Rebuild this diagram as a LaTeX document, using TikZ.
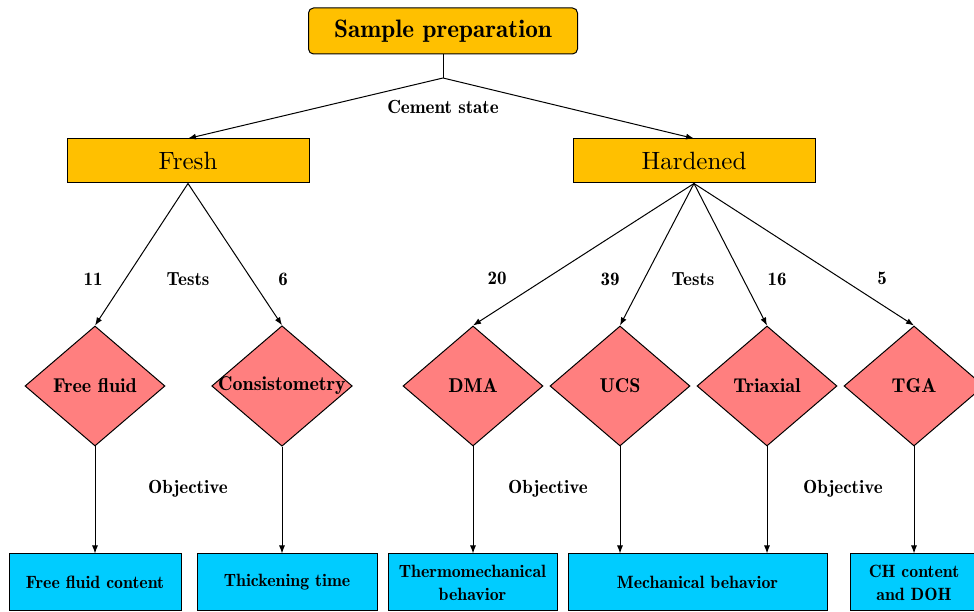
\documentclass[tikz,border=0pt]{standalone}
\usepackage{fontspec}
\setmainfont{lmroman10-regular}[Extension=.otf, BoldFont=lmromandemi10-regular]
\usetikzlibrary{shapes.geometric,positioning,arrows.meta}
\definecolor{stateorange}{HTML}{FFC000}
\definecolor{testred}{HTML}{FF7F7F}
\definecolor{resultcyan}{HTML}{00CCFF}
\begin{document}
\begin{tikzpicture}[x=1pt, y=1pt, >={Latex[length=8pt,width=6pt]}, line width=1pt,
    prepbox/.style={rectangle, rounded corners=5pt, draw, fill=stateorange, minimum width=269pt, minimum height=46pt, font=\fontsize{25.2}{30}\bfseries},
    statebox/.style={rectangle, draw, fill=stateorange, minimum width=242pt, minimum height=44pt, font=\fontsize{25}{30}\selectfont},
    testbox/.style={diamond, draw, fill=testred, shape aspect=1.1667, inner xsep=-4pt, inner ysep=0pt, minimum width=140pt, minimum height=120pt, font=\fontsize{20}{24}\bfseries},
    resultbox/.style={rectangle, draw, fill=resultcyan, minimum height=57pt, align=center, font=\fontsize{17.8}{23}\bfseries},
    tag/.style={font=\fontsize{19}{22}\bfseries},
    node distance=147pt]
        \useasboundingbox (0,0) rectangle (974,612);

        \node[prepbox] (prep) at (443,581) {Sample preparation};
        \coordinate (split) at (443,534);
        \node[tag] (state) at (443,505) {Cement state};
        \node[statebox] (fresh) at (188,451) {Fresh};
        \node[statebox] (hard) at (694,451) {Hardened};

        \node[testbox] (fluid) at (95,226) {Free fluid};
        \node[testbox, right of=fluid, node distance=187pt] (consist) {Consistometry};
        \node[testbox] (dma) at (473,226) {DMA};
        \node[testbox, right of=dma] (ucs) {UCS};
        \node[testbox, right of=ucs] (triax) {Triaxial};
        \node[testbox, right of=triax] (tga) {TGA};

        \node[tag] (n11) at (93,333) {11};
        \node[tag] (freshtests) at (188,333) {Tests};
        \node[tag] (n6) at (283,333) {6};
        \node[tag] (n20) at (497,334) {20};
        \node[tag] (n39) at (610,333) {39};
        \node[tag] (hardtests) at (693,333) {Tests};
        \node[tag] (n16) at (777,333) {16};
        \node[tag] (n5) at (882,334) {5};

        \node[tag] (obj1) at (188,123) {Objective};
        \node[tag] (obj2) at (548,123) {Objective};
        \node[tag] (obj3) at (843,123) {Objective};

        \node[resultbox, minimum width=172pt] (content) at (95,29.5) {Free fluid content};
        \node[resultbox, minimum width=180pt] (thick) at (287,29.5) {Thickening time};
        \node[resultbox, minimum width=169pt] (thermo) at (472.5,29.5) {Thermomechanical\\behavior};
        \node[resultbox, minimum width=259pt] (mech) at (697.5,29.5) {Mechanical behavior};
        \node[resultbox, minimum width=128pt] (ch) at (914,29.5) {CH content\\and DOH};

        \draw (prep) -- (split);
        \draw[->] (split) -- (fresh.north);
        \draw[->] (split) -- (hard.north);
        \draw[->] (fresh.south) -- (fluid.north);
        \draw[->] (fresh.south) -- (consist.north);
        \draw[->] (hard.south) -- (dma.north);
        \draw[->] (hard.south) -- (ucs.north);
        \draw[->] (hard.south) -- (triax.north);
        \draw[->] (hard.south) -- (tga.north);
        \draw[->] (fluid.south) -- (content.north -| fluid.south);
        \draw[->] (consist.south) -- (thick.north -| consist.south);
        \draw[->] (dma.south) -- (thermo.north -| dma.south);
        \draw[->] (ucs.south) -- (mech.north -| ucs.south);
        \draw[->] (triax.south) -- (mech.north -| triax.south);
        \draw[->] (tga.south) -- (ch.north -| tga.south);
      \end{tikzpicture}
\end{document}
